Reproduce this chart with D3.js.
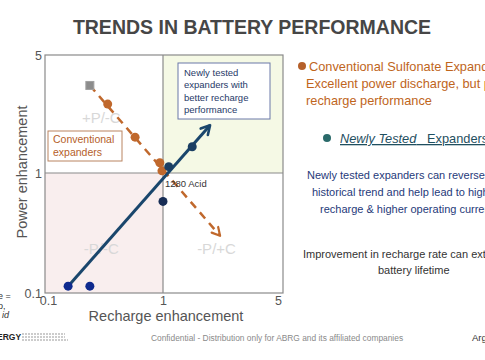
<!DOCTYPE html>
<html><head><meta charset="utf-8">
<script src="https://cdn.jsdelivr.net/npm/d3@7"></script>
<style>body{margin:0;background:#fff;}svg{display:block;font-family:Arial,"Liberation Sans",sans-serif;}</style>
</head><body>
<svg id="c" width="485" height="360"></svg>
<script>
// Data
const tickValues = [0.1, 1, 5];
const tickLabels = ["0.1", "1", "5"];
const convX = [0.34, 0.58, 0.94, 0.98];
const convY = [2.56, 1.63, 1.15, 1.03];
const convStart = {x: 0.24, y: 3.3};     // gray square
const convArrowEnd = {x: 2.15, y: 0.30};
const newX = [1.08, 1.48, 1.0, 0.157, 0.24];
const newY = [1.09, 1.43, 0.58, 0.114, 0.114];
const newColors = ["#1b3f63", "#1b3f63", "#172d55", "#0f2a8e", "#0f2a8e"];
const newLineStart = {x: 0.157, y: 0.114};
const newArrowEnd = {x: 1.88, y: 1.92};
const quadLabels = [{t:"+P/-C", x:0.3, y:2.1}, {t:"-P/-C", x:0.3, y:0.23}, {t:"-P/+C", x:2.05, y:0.23}];

const svg = d3.select("#c");
const L = 45, R = 283, T = 55, B = 293, XM = 163, YM = 173;
const x = d3.scaleLog().domain([0.1, 1, 5]).range([L, XM, R]);
const y = d3.scaleLog().domain([0.1, 1, 5]).range([B, YM, T]);

// Title
svg.append("text").attr("x", 252).attr("y", 34).attr("text-anchor", "middle")
  .attr("font-size", 19.5).attr("font-weight", "bold").attr("fill", "#464646")
  .text("TRENDS IN BATTERY PERFORMANCE");

// Quadrant backgrounds
svg.append("rect").attr("x", x(1)).attr("y", y(5)).attr("width", x(5) - x(1)).attr("height", y(1) - y(5)).attr("fill", "#f5f9e5");
svg.append("rect").attr("x", x(0.1)).attr("y", y(1)).attr("width", x(1) - x(0.1)).attr("height", y(0.1) - y(1)).attr("fill", "#f9eeee");

// Frame and mid lines
svg.append("rect").attr("x", L).attr("y", T).attr("width", R - L).attr("height", B - T)
  .attr("fill", "none").attr("stroke", "#8a8a8a").attr("stroke-width", 1.2);
svg.append("line").attr("x1", x(1)).attr("x2", x(1)).attr("y1", T).attr("y2", B).attr("stroke", "#8a8a8a").attr("stroke-width", 1.2);
svg.append("line").attr("x1", L).attr("x2", R).attr("y1", y(1)).attr("y2", y(1)).attr("stroke", "#8a8a8a").attr("stroke-width", 1.2);

// Axes ticks (labels only)
const xa = svg.append("g").attr("transform", `translate(0,${B})`)
  .call(d3.axisBottom(x).tickValues(tickValues).tickFormat((d, i) => tickLabels[i]).tickSize(0).tickPadding(3));
xa.select(".domain").remove();
xa.selectAll("text").attr("font-size", 12.5).attr("fill", "#555").attr("font-family", "Arial, Liberation Sans, sans-serif");
xa.selectAll(".tick").filter(d => d === 0.1).select("text").attr("dx", 3);
xa.selectAll(".tick").filter(d => d === 5).select("text").attr("dx", -5);
const ya = svg.append("g").attr("transform", `translate(${L},0)`)
  .call(d3.axisLeft(y).tickValues(tickValues).tickFormat((d, i) => tickLabels[i]).tickSize(0).tickPadding(3));
ya.select(".domain").remove();
ya.selectAll("text").attr("font-size", 12.5).attr("fill", "#555").attr("font-family", "Arial, Liberation Sans, sans-serif");

// Axis titles
svg.append("text").attr("x", 166).attr("y", 321).attr("text-anchor", "middle").attr("font-size", 14.5).attr("fill", "#555").text("Recharge enhancement");
svg.append("text").attr("transform", "translate(27,172) rotate(-90)").attr("text-anchor", "middle").attr("font-size", 14.5).attr("fill", "#555").text("Power enhancement");

// Quadrant labels
svg.selectAll(".ql").data(quadLabels).enter().append("text")
  .attr("x", d => x(d.x)).attr("y", d => y(d.y)).attr("text-anchor", "middle").attr("dominant-baseline", "middle")
  .attr("font-size", 15).attr("fill", "#d8d8d8").text(d => d.t);

// Arrowhead helper
function arrowHead(x1, y1, x2, y2, color, w, len) {
  const a = Math.atan2(y2 - y1, x2 - x1), s = 0.5;
  const p1 = [x2 - len * Math.cos(a - s), y2 - len * Math.sin(a - s)];
  const p2 = [x2 - len * Math.cos(a + s), y2 - len * Math.sin(a + s)];
  svg.append("path").attr("d", `M${p1}L${x2},${y2}L${p2}`).attr("fill", "none")
    .attr("stroke", color).attr("stroke-width", w).attr("stroke-linecap", "round").attr("stroke-linejoin", "round");
}

// Conventional dashed line
const cx1 = x(convStart.x), cy1 = y(convStart.y), cx2 = x(convArrowEnd.x), cy2 = y(convArrowEnd.y);
svg.append("line").attr("x1", cx1).attr("y1", cy1).attr("x2", cx2).attr("y2", cy2)
  .attr("stroke", "#c0682c").attr("stroke-width", 2.5).attr("stroke-dasharray", "8,6");
arrowHead(cx1, cy1, cx2, cy2, "#c0682c", 2.2, 9);

// Newly tested line
const nx1 = x(newLineStart.x), ny1 = y(newLineStart.y), nx2 = x(newArrowEnd.x), ny2 = y(newArrowEnd.y);
svg.append("line").attr("x1", nx1).attr("y1", ny1).attr("x2", nx2).attr("y2", ny2)
  .attr("stroke", "#1a466c").attr("stroke-width", 3);
arrowHead(nx1, ny1, nx2, ny2, "#1a466c", 2.6, 10);

// Gray square
svg.append("rect").attr("x", cx1 - 4).attr("y", cy1 - 4).attr("width", 8).attr("height", 8)
  .attr("fill", "#8c8c8c").attr("stroke", "#a0a0a0");

// Conventional points
svg.selectAll(".cp").data(convX).enter().append("circle")
  .attr("cx", d => x(d)).attr("cy", (d, i) => y(convY[i])).attr("r", 4.5).attr("fill", "#c0682c");

// Newly tested points
svg.selectAll(".np").data(newX).enter().append("circle")
  .attr("cx", d => x(d)).attr("cy", (d, i) => y(newY[i])).attr("r", 4.5).attr("fill", (d, i) => newColors[i]);

// 1280 Acid label
svg.append("text").attr("x", x(1) + 2).attr("y", y(1) + 14).attr("font-size", 9.5).attr("fill", "#333").text("1280 Acid");

// Callout boxes
svg.append("rect").attr("x", 48).attr("y", 131).attr("width", 74).attr("height", 30).attr("fill", "#fff").attr("stroke", "#b98460").attr("stroke-width", 1);
svg.append("text").attr("x", 53).attr("y", 143).attr("font-size", 10.5).attr("fill", "#b5602a")
  .selectAll("tspan").data(["Conventional", "expanders"]).enter().append("tspan").attr("x", 53).attr("dy", (d, i) => i ? 12.5 : 0).text(d => d);
svg.append("rect").attr("x", 178).attr("y", 63).attr("width", 92).attr("height", 56).attr("fill", "#fff").attr("stroke", "#6b78a8").attr("stroke-width", 1);
svg.append("text").attr("x", 184).attr("y", 76).attr("font-size", 9.5).attr("fill", "#1f3a68")
  .selectAll("tspan").data(["Newly tested", "expanders with", "better recharge", "performance"]).enter().append("tspan").attr("x", 184).attr("dy", (d, i) => i ? 12.3 : 0).text(d => d);

// Right-hand text (continues past the right edge, as in the reference)
svg.append("circle").attr("cx", 302).attr("cy", 66).attr("r", 4).attr("fill", "#b5602a");
svg.append("text").attr("x", 309).attr("y", 71).attr("font-size", 12.8).attr("fill", "#c0651c").text("Conventional Sulfonate Expanders:");
svg.append("text").attr("x", 306).attr("y", 88).attr("font-size", 12.8).attr("fill", "#c0651c").text("Excellent power discharge, but poor");
svg.append("text").attr("x", 306).attr("y", 105).attr("font-size", 12.8).attr("fill", "#c0651c").text("recharge performance");

svg.append("circle").attr("cx", 327).attr("cy", 138).attr("r", 4).attr("fill", "#2a6a6a");
const nt = svg.append("text").attr("x", 340).attr("y", 143).attr("font-size", 12.8).attr("fill", "#1f4f5f");
nt.append("tspan").attr("font-style", "italic").attr("text-decoration", "underline").text("Newly Tested");
nt.append("tspan").attr("text-decoration", "underline").text("\u00a0\u00a0 Expanders:");

const blueLines = ["Newly tested expanders can reverse the", "historical trend and help lead to higher", "recharge & higher operating currents"];
const blueX = [307, 312, 320];
svg.selectAll(".bl").data(blueLines).enter().append("text")
  .attr("x", (d, i) => blueX[i]).attr("y", (d, i) => 179 + i * 17).attr("font-size", 11).attr("fill", "#1f3a7a").text(d => d);
svg.append("text").attr("x", 303).attr("y", 258).attr("font-size", 11).attr("fill", "#333").text("Improvement in recharge rate can extend");
svg.append("text").attr("x", 378).attr("y", 274).attr("font-size", 11).attr("fill", "#333").text("battery lifetime");

// Left clipped notes
const leftNotes = ["e =", "o,", "id"];
svg.selectAll(".ln").data(leftNotes).enter().append("text")
  .attr("x", (d, i) => i === 2 ? 2 : -2).attr("y", (d, i) => 299 + i * 9.5).attr("font-size", 9).attr("fill", "#333")
  .attr("font-style", (d, i) => i === 2 ? "italic" : "normal").text(d => d);

// Footer
svg.append("text").attr("x", -3).attr("y", 340).attr("font-size", 8.5).attr("font-weight", "bold").attr("fill", "#222").text("ERGY");
[334, 337, 340].forEach((yy, i) => svg.append("line").attr("x1", 22).attr("x2", i === 2 ? 68 : 65).attr("y1", yy).attr("y2", yy).attr("stroke", "#999").attr("stroke-width", 1.2).attr("stroke-dasharray", "2,1"));
svg.append("text").attr("x", 277).attr("y", 341).attr("text-anchor", "middle").attr("font-size", 8.4).attr("fill", "#8a8a8a")
  .text("Confidential  - Distribution only for ABRG and its affiliated companies");
svg.append("text").attr("x", 472).attr("y", 341).attr("font-size", 9.5).attr("fill", "#333").text("Argonne");
</script>
</body></html>
